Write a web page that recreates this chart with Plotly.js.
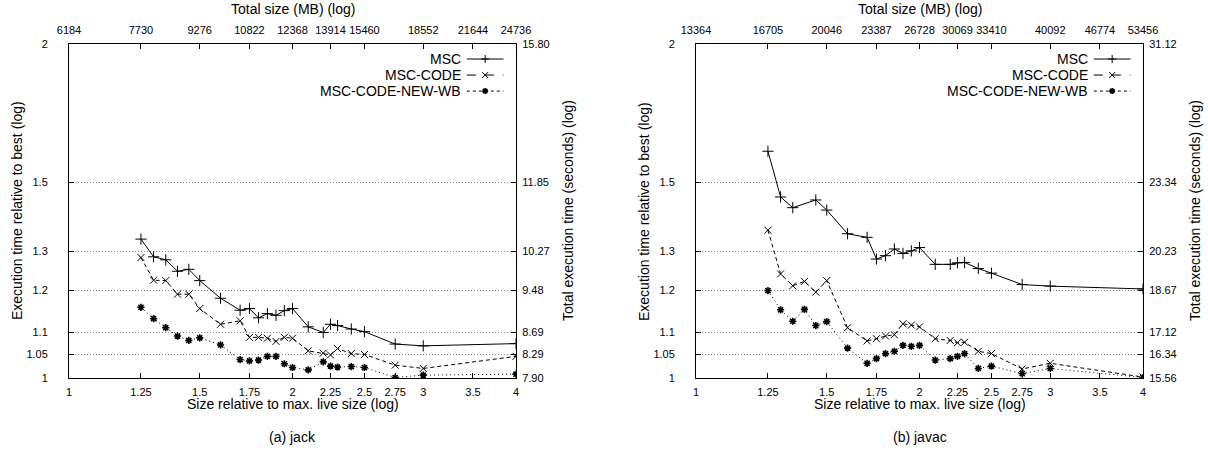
<!DOCTYPE html>
<html>
<head>
<meta charset="utf-8">
<script src="https://cdn.plot.ly/plotly-3.0.1.min.js"></script>
<style>html,body{margin:0;padding:0;background:#fff}#chart{width:1208px;height:452px}</style>
</head>
<body>
<div id="chart"></div>
<script>
// ---------------- data ----------------
const sizes = [1.25,1.3,1.35,1.4,1.45,1.5,1.6,1.7,1.75,1.8,1.85,1.9,1.95,2,2.1,2.2,2.25,2.3,2.4,2.5,2.75,3,4];

const jackMSC     = [1.334,1.286,1.278,1.248,1.253,1.224,1.180,1.151,1.155,1.133,1.143,1.139,1.150,1.155,1.112,1.099,1.118,1.115,1.107,1.101,1.073,1.069,1.074];
const jackCODE    = [1.284,1.225,1.224,1.190,1.190,1.155,1.118,1.126,1.088,1.088,1.086,1.079,1.088,1.086,1.058,1.053,1.049,1.063,1.052,1.050,1.027,1.020,1.046];
const jackNEWWB   = [1.158,1.131,1.110,1.091,1.081,1.087,1.071,1.039,1.036,1.038,1.046,1.046,1.030,1.022,1.017,1.034,1.025,1.023,1.024,1.022,1.001,1.006,1.008];

const javacMSC    = [1.601,1.456,1.424,null,1.447,1.417,1.349,1.339,1.280,1.289,1.307,1.295,1.302,1.311,1.266,1.266,1.270,1.271,1.255,1.243,1.214,1.210,1.203];
const javacCODE   = [1.359,1.241,1.211,1.222,1.195,1.224,1.110,1.080,1.085,1.091,1.094,1.119,1.116,1.112,1.085,1.081,1.076,1.077,1.057,1.052,1.019,1.031,1.002];
const javacNEWWB  = [1.199,1.152,1.125,1.153,1.115,1.124,1.064,1.031,1.041,1.052,1.057,1.070,1.068,1.070,1.038,1.041,1.046,1.052,1.020,1.025,1.009,1.020,1.001];

const seriesNames = ['MSC','MSC-CODE','MSC-CODE-NEW-WB'];

// bottom x ticks
const xTickVals  = [1,1.25,1.5,1.75,2,2.25,2.5,2.75,3,3.5,4];
const xTickText  = ['1','1.25','1.5','1.75','2','2.25','2.5','2.75','3','3.5','4'];
// top x ticks (total size MB)
const topTickVals = [1,1.25,1.5,1.75,2,2.25,2.5,3,3.5,4];
const jackTotalMB  = ['6184','7730','9276','10822','12368','13914','15460','18552','21644','24736'];
const javacTotalMB = ['13364','16705','20046','23387','26728','30069','33410','40092','46774','53456'];
// left y ticks
const yTickVals = [1,1.05,1.1,1.2,1.3,1.5,2];
const yTickText = ['1','1.05','1.1','1.2','1.3','1.5','2'];
// right y ticks (total execution time, seconds)
const jackSeconds  = ['7.90','8.29','8.69','9.48','10.27','11.85','15.80'];
const javacSeconds = ['15.56','16.34','17.12','18.67','20.23','23.34','31.12'];

// ---------------- styling ----------------
const FONT = 'Liberation Sans, Arial, Helvetica, sans-serif';
const styles = [
  {dash:'solid',    symbol:'cross-thin-open', size:8, lw:1},
  {dash:'4px,3px',  symbol:'x-thin-open',     size:7, lw:1},
  {dash:'1px,3px',  symbol:'asterisk-open',   size:6, lw:1.6}
];

function mkTrace(x, y, i, xa, ya){
  const s = styles[i];
  return {
    x:x, y:y, xaxis:xa, yaxis:ya, type:'scatter', mode:'lines+markers',
    name:seriesNames[i], connectgaps:true, showlegend:false, hoverinfo:'x+y',
    line:{color:'#000', width:1, dash:s.dash},
    marker:{symbol:s.symbol, size:s.size, color:'#000', line:{color:'#000', width:s.lw}}
  };
}
// empty helper traces so that the secondary (top / right) axes get drawn
function axisHolder(xa, ya){
  return {x:[], y:[], xaxis:xa, yaxis:ya, type:'scatter', mode:'markers', showlegend:false, hoverinfo:'skip'};
}

const traces = [
  mkTrace(sizes, jackMSC, 0, 'x', 'y'),
  mkTrace(sizes, jackCODE, 1, 'x', 'y'),
  mkTrace(sizes, jackNEWWB, 2, 'x', 'y'),
  mkTrace(sizes, javacMSC, 0, 'x2', 'y2'),
  mkTrace(sizes, javacCODE, 1, 'x2', 'y2'),
  mkTrace(sizes, javacNEWWB, 2, 'x2', 'y2'),
  axisHolder('x3', 'y3'),
  axisHolder('x4', 'y4')
];

const W = 1208, H = 452;
const leftDom  = [69/W, 516/W];
const rightDom = [696/W, 1143/W];
const yDom     = [1 - 378/H, 1 - 44/H];
const xRange = [0, Math.log10(4)];
const yRange = [0, Math.log10(2)];

const tickFont = {family:FONT, size:11, color:'#000'};
const baseAxis = {
  type:'log', ticks:'inside', ticklen:5, tickwidth:1, tickcolor:'#000',
  showline:true, linecolor:'#000', linewidth:1, zeroline:false, showgrid:false,
  tickfont:tickFont, fixedrange:true
};

function xBottom(dom, anchor){
  return Object.assign({}, baseAxis, {domain:dom, anchor:anchor, range:xRange,
    tickmode:'array', tickvals:xTickVals, ticktext:xTickText, ticklabelstandoff:4});
}
function xTop(over, anchor, labels){
  return Object.assign({}, baseAxis, {overlaying:over, anchor:anchor, side:'top', range:xRange,
    tickmode:'array', tickvals:topTickVals, ticktext:labels, ticklabelstandoff:5});
}
function yLeft(anchor){
  return Object.assign({}, baseAxis, {domain:yDom, anchor:anchor, range:yRange,
    tickmode:'array', tickvals:yTickVals, ticktext:yTickText,
    showgrid:true, gridcolor:'#888', griddash:'1px,2px', gridwidth:1, ticklabelstandoff:18});
}
function yRight(over, anchor, labels){
  return Object.assign({}, baseAxis, {overlaying:over, anchor:anchor, side:'right', range:yRange,
    tickmode:'array', tickvals:yTickVals, ticktext:labels, ticklabelstandoff:3});
}

// legend (gnuplot style: text left of sample)
const legendRowsY = [0.955, 0.907, 0.859];
const legendTextX = 0.882, legendLineX0 = 0.89, legendLineX1 = 0.972, legendMarkX = 0.931;
const markerPaths = [
  'M-4,0L4,0M0,-4L0,4',
  'M-3,-3L3,3M-3,3L3,-3',
  'M-3,0L3,0M0,-3L0,3M-2.2,-2.2L2.2,2.2M-2.2,2.2L2.2,-2.2'
];
const dashMap = ['solid','dash','dot'];
const shapes = [], annotations = [];
[['x','y'],['x2','y2']].forEach(function(p){
  seriesNames.forEach(function(n,i){
    annotations.push({xref:p[0]+' domain', yref:p[1]+' domain', x:legendTextX, y:legendRowsY[i],
      xanchor:'right', yanchor:'middle', text:n, showarrow:false, font:{family:FONT,size:14,color:'#000'}});
    shapes.push({type:'line', xref:p[0]+' domain', yref:p[1]+' domain', x0:legendLineX0, x1:legendLineX1,
      y0:legendRowsY[i], y1:legendRowsY[i], line:{color:'#000', width:1, dash:dashMap[i]}});
    shapes.push({type:'path', xref:p[0]+' domain', yref:p[1]+' domain', xsizemode:'pixel', ysizemode:'pixel',
      xanchor:legendMarkX, yanchor:legendRowsY[i], path:markerPaths[i], line:{color:'#000', width:styles[i].lw}});
  });
});

// titles and captions
function ann(x, y, text, angle){
  return {xref:'paper', yref:'paper', x:x/W, y:1 - y/H, xanchor:'center', yanchor:'middle',
    text:text, showarrow:false, textangle:angle||0, font:{family:FONT, size:14, color:'#000'}};
}
const leftC = (69+516)/2, rightC = (696+1143)/2, midY = (44+378)/2;
annotations.push(
  ann(leftC, 9, 'Total size (MB) (log)'),
  ann(rightC, 9, 'Total size (MB) (log)'),
  ann(leftC, 404, 'Size relative to max. live size (log)'),
  ann(rightC, 404, 'Size relative to max. live size (log)'),
  ann(17, midY, 'Execution time relative to best (log)', -90),
  ann(568, midY, 'Total execution time (seconds) (log)', -90),
  ann(644, midY, 'Execution time relative to best (log)', -90),
  ann(1195, midY, 'Total execution time (seconds) (log)', -90),
  ann(leftC, 437, '(a) jack'),
  ann(rightC, 437, '(b) javac')
);

const layout = {
  width:W, height:H, margin:{l:0, r:0, t:0, b:0},
  paper_bgcolor:'#fff', plot_bgcolor:'#fff', showlegend:false,
  font:{family:FONT, color:'#000'},
  xaxis: xBottom(leftDom, 'y'),
  yaxis: yLeft('x'),
  xaxis3: xTop('x', 'y', jackTotalMB),
  yaxis3: yRight('y', 'x', jackSeconds),
  xaxis2: xBottom(rightDom, 'y2'),
  yaxis2: yLeft('x2'),
  xaxis4: xTop('x2', 'y2', javacTotalMB),
  yaxis4: yRight('y2', 'x2', javacSeconds),
  shapes: shapes,
  annotations: annotations
};

Plotly.newPlot('chart', traces, layout, {displayModeBar:false, staticPlot:true});
</script>
</body>
</html>
